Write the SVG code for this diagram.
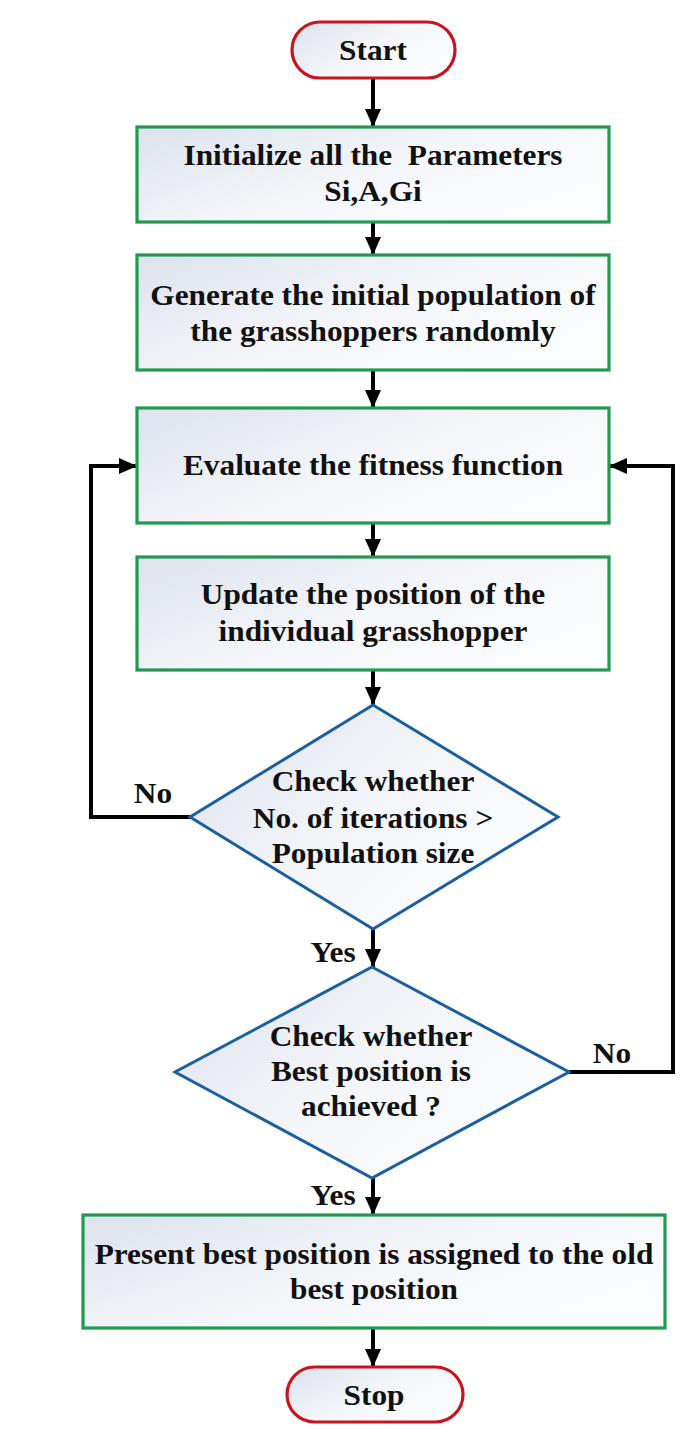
<svg xmlns="http://www.w3.org/2000/svg" width="697" height="1430" viewBox="0 0 697 1430">
  <style>
    .lbl { font-family: "Liberation Serif", "Times New Roman", serif; font-weight: bold; font-size: 29px; fill: #111; text-anchor: middle; }
    .box { fill: url(#paleFill); stroke: #1f9a50; stroke-width: 3.2; }
    .dia { fill: url(#paleFill); stroke: #1c5f9e; stroke-width: 3; }
    .term { fill: url(#paleFill); stroke: #c8141c; stroke-width: 3.2; }
    .wire { fill: none; stroke: #000; stroke-width: 4; }
  </style>
  <defs>
    <linearGradient id="paleFill" x1="0" y1="0" x2="1" y2="0.6">
      <stop offset="0" stop-color="#dde2ec"/>
      <stop offset="0.55" stop-color="#f3f5f9"/>
      <stop offset="1" stop-color="#fbfcfd"/>
    </linearGradient>
    <marker id="head" markerUnits="userSpaceOnUse" markerWidth="20" markerHeight="18" refX="18" refY="8" orient="auto">
      <path d="M0,0 L18,8 L0,16 Z" fill="#000"/>
    </marker>
  </defs>

  <rect width="697" height="1430" fill="#ffffff"/>

  <!-- connectors -->
  <g id="connectors">
    <line class="wire" x1="373" y1="78" x2="373" y2="127" marker-end="url(#head)"/>
    <line class="wire" x1="373" y1="222" x2="373" y2="255" marker-end="url(#head)"/>
    <line class="wire" x1="373" y1="370" x2="373" y2="408" marker-end="url(#head)"/>
    <line class="wire" x1="373" y1="523" x2="373" y2="557" marker-end="url(#head)"/>
    <line class="wire" x1="373" y1="670" x2="373" y2="705" marker-end="url(#head)"/>
    <line class="wire" x1="373" y1="929" x2="373" y2="967" marker-end="url(#head)"/>
    <line class="wire" x1="373" y1="1178" x2="373" y2="1215" marker-end="url(#head)"/>
    <line class="wire" x1="373" y1="1328" x2="373" y2="1367" marker-end="url(#head)"/>
    <!-- "No" loop back from the iteration check -->
    <path class="wire" d="M190,817 H91 V466 H137" marker-end="url(#head)"/>
    <!-- "No" loop back from the best-position check -->
    <path class="wire" d="M569,1072 H673 V466 H609" marker-end="url(#head)"/>
    <g transform="translate(153 0) scale(1.08 1)"><text class="lbl" x="0" y="803">No</text></g>
    <g transform="translate(333 0) scale(1.08 1)"><text class="lbl" x="0" y="962">Yes</text></g>
    <g transform="translate(612 0) scale(1.08 1)"><text class="lbl" x="0" y="1063">No</text></g>
    <g transform="translate(333 0) scale(1.08 1)"><text class="lbl" x="0" y="1205">Yes</text></g>
  </g>

  <g id="start">
    <rect class="term" x="292" y="22" width="163" height="56" rx="28" ry="28"/>
    <g transform="translate(373 0) scale(1.08 1)"><text class="lbl" x="0" y="60">Start</text></g>
  </g>

  <g id="init">
    <rect class="box" x="137" y="127" width="472" height="95"/>
    <g transform="translate(373 0) scale(1.08 1)">
      <text class="lbl" x="0" y="165" style="white-space:pre">Initialize all the  Parameters</text>
      <text class="lbl" x="0" y="201">Si,A,Gi</text>
    </g>
  </g>

  <g id="generate">
    <rect class="box" x="137" y="255" width="472" height="115"/>
    <g transform="translate(373 0) scale(1.08 1)">
      <text class="lbl" x="0" y="305">Generate the initial population of</text>
      <text class="lbl" x="0" y="341">the grasshoppers randomly</text>
    </g>
  </g>

  <g id="evaluate">
    <rect class="box" x="137" y="408" width="472" height="115"/>
    <g transform="translate(373 0) scale(1.08 1)">
      <text class="lbl" x="0" y="475">Evaluate the fitness function</text>
    </g>
  </g>

  <g id="update">
    <rect class="box" x="137" y="557" width="472" height="113"/>
    <g transform="translate(373 0) scale(1.08 1)">
      <text class="lbl" x="0" y="604">Update the position of the</text>
      <text class="lbl" x="0" y="641">individual grasshopper</text>
    </g>
  </g>

  <g id="check-iterations">
    <polygon class="dia" points="373,705 558,817 373,929 190,817"/>
    <g transform="translate(373 0) scale(1.08 1)">
      <text class="lbl" x="0" y="791">Check whether</text>
      <text class="lbl" x="0" y="828">No. of iterations &gt;</text>
      <text class="lbl" x="0" y="863">Population size</text>
    </g>
  </g>

  <g id="check-best">
    <polygon class="dia" points="372,967 569,1072 372,1178 175,1072"/>
    <g transform="translate(371 0) scale(1.08 1)">
      <text class="lbl" x="0" y="1046">Check whether</text>
      <text class="lbl" x="0" y="1081">Best position is</text>
      <text class="lbl" x="0" y="1116">achieved ?</text>
    </g>
  </g>

  <g id="assign">
    <rect class="box" x="83" y="1215" width="582" height="113"/>
    <g transform="translate(374 0) scale(1.08 1)">
      <text class="lbl" x="0" y="1264">Present best position is assigned to the old</text>
      <text class="lbl" x="0" y="1299">best position</text>
    </g>
  </g>

  <g id="stop">
    <rect class="term" x="287" y="1367" width="176" height="55" rx="27.5" ry="27.5"/>
    <g transform="translate(374 0) scale(1.08 1)"><text class="lbl" x="0" y="1405">Stop</text></g>
  </g>
</svg>
